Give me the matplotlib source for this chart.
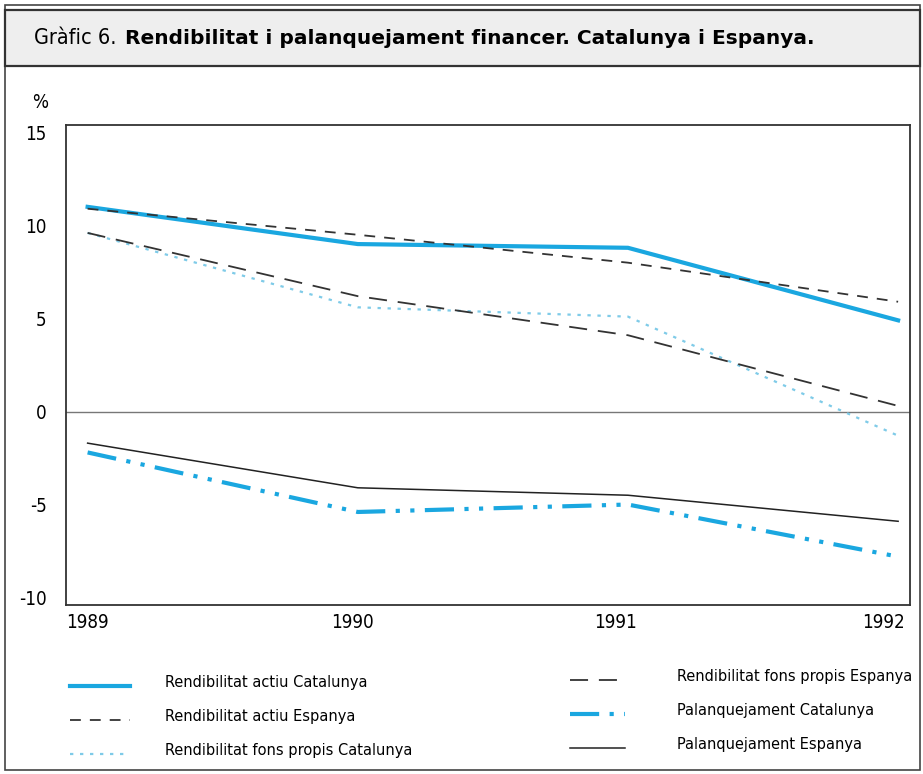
import matplotlib
matplotlib.use("Agg")
import matplotlib.pyplot as plt
from matplotlib.patches import Rectangle
from matplotlib.lines import Line2D

W, H = 923, 774

years = [1989, 1990, 1991, 1992]
year_labels = ["1989", "1990", "1991", "1992"]
actiu_cat = [11.0, 9.0, 8.8, 4.9]
actiu_esp = [10.9, 9.5, 8.0, 5.9]
fons_cat = [9.6, 5.6, 5.1, -1.3]
fons_esp = [9.6, 6.2, 4.1, 0.3]
palanq_cat = [-2.2, -5.4, -5.0, -7.8]
palanq_esp = [-1.7, -4.1, -4.5, -5.9]
yticks = [15, 10, 5, 0, -5, -10]

blue = "#1aa7e0"
light_blue = "#7fcbe8"
narrow = dict(family="DejaVu Sans", stretch="condensed")

# series: label, values, style
series = [
    ("Rendibilitat actiu Catalunya", actiu_cat, dict(color=blue, lw=3.0, ls="-")),
    ("Rendibilitat actiu Espanya", actiu_esp, dict(color="#333333", lw=1.3, ls=(0, (6, 5)))),
    ("Rendibilitat fons propis Catalunya", fons_cat, dict(color=light_blue, lw=1.6, ls=(0, (1.5, 3)))),
    ("Rendibilitat fons propis Espanya", fons_esp, dict(color="#333333", lw=1.3, ls=(0, (10, 6)))),
    ("Palanquejament Catalunya", palanq_cat, dict(color=blue, lw=3.0, ls=(0, (7, 2.5, 1, 2.5, 1, 2.5)))),
    ("Palanquejament Espanya", palanq_esp, dict(color="#222222", lw=1.1, ls="-")),
]


def fx(px):
    return px / W


def fy(py):
    return 1 - py / H


fig = plt.figure(figsize=(W / 100, H / 100), dpi=100)

# outer frame and title band
fig.patches.append(Rectangle((fx(5), fy(770)), fx(915), 765 / H, transform=fig.transFigure,
                             fill=False, ec="#444444", lw=1.2))
fig.patches.append(Rectangle((fx(5), fy(66)), fx(915), 56 / H, transform=fig.transFigure,
                             fc="#eeeeee", ec="#333333", lw=1.6))
fig.text(fx(34), fy(38), "Gràfic 6.", fontsize=15.5, va="center", ha="left", **narrow)
fig.text(fx(125), fy(38), "Rendibilitat i palanquejament financer. Catalunya i Espanya.",
         family="DejaVu Sans", fontweight="bold", fontsize=14.5,
         va="center", ha="left")

ax = fig.add_axes([fx(66), fy(605), fx(910) - fx(66), (605 - 125) / H])
for name, vals, st in series:
    ax.plot(years, vals, label=name, **st)
ax.axhline(0, color="#777777", lw=1.0, zorder=0)

ax.set_xlim(1988.92, 1992.044)
ax.set_ylim(-10.4, 15.4)
ax.set_yticks(yticks)
ax.set_yticklabels([str(t) for t in yticks], fontsize=13.5, **narrow)
ax.set_xticks([])
# year labels sit a little left of their points
for yr, lbl, dx in zip(years, year_labels, [0, -5, -12, -15]):
    ax.annotate(lbl, (yr, 0), xycoords=("data", "axes fraction"), xytext=(dx, -8),
                textcoords="offset pixels", ha="center", va="top", fontsize=13.5, **narrow)
ax.tick_params(length=0, pad=14)
for sp in ax.spines.values():
    sp.set_color("#333333")
    sp.set_linewidth(1.3)
fig.text(fx(40), fy(103), "%", fontsize=13.5, ha="center", va="center", **narrow)

# legend drawn in two columns
rows = [682, 716, 750]
for i, (name, vals, st) in enumerate(series):
    col = i // 3
    y = rows[i % 3] - (6 if col else 0)
    x0, x1, tx = (70, 130, 165) if col == 0 else (570, 625, 677)
    fig.add_artist(Line2D([fx(x0), fx(x1)], [fy(y + 4), fy(y + 4)],
                          transform=fig.transFigure, **st))
    fig.text(fx(tx), fy(y), name, fontsize=11.7, va="center", ha="left", **narrow)

fig.savefig("out.png", dpi=100)
